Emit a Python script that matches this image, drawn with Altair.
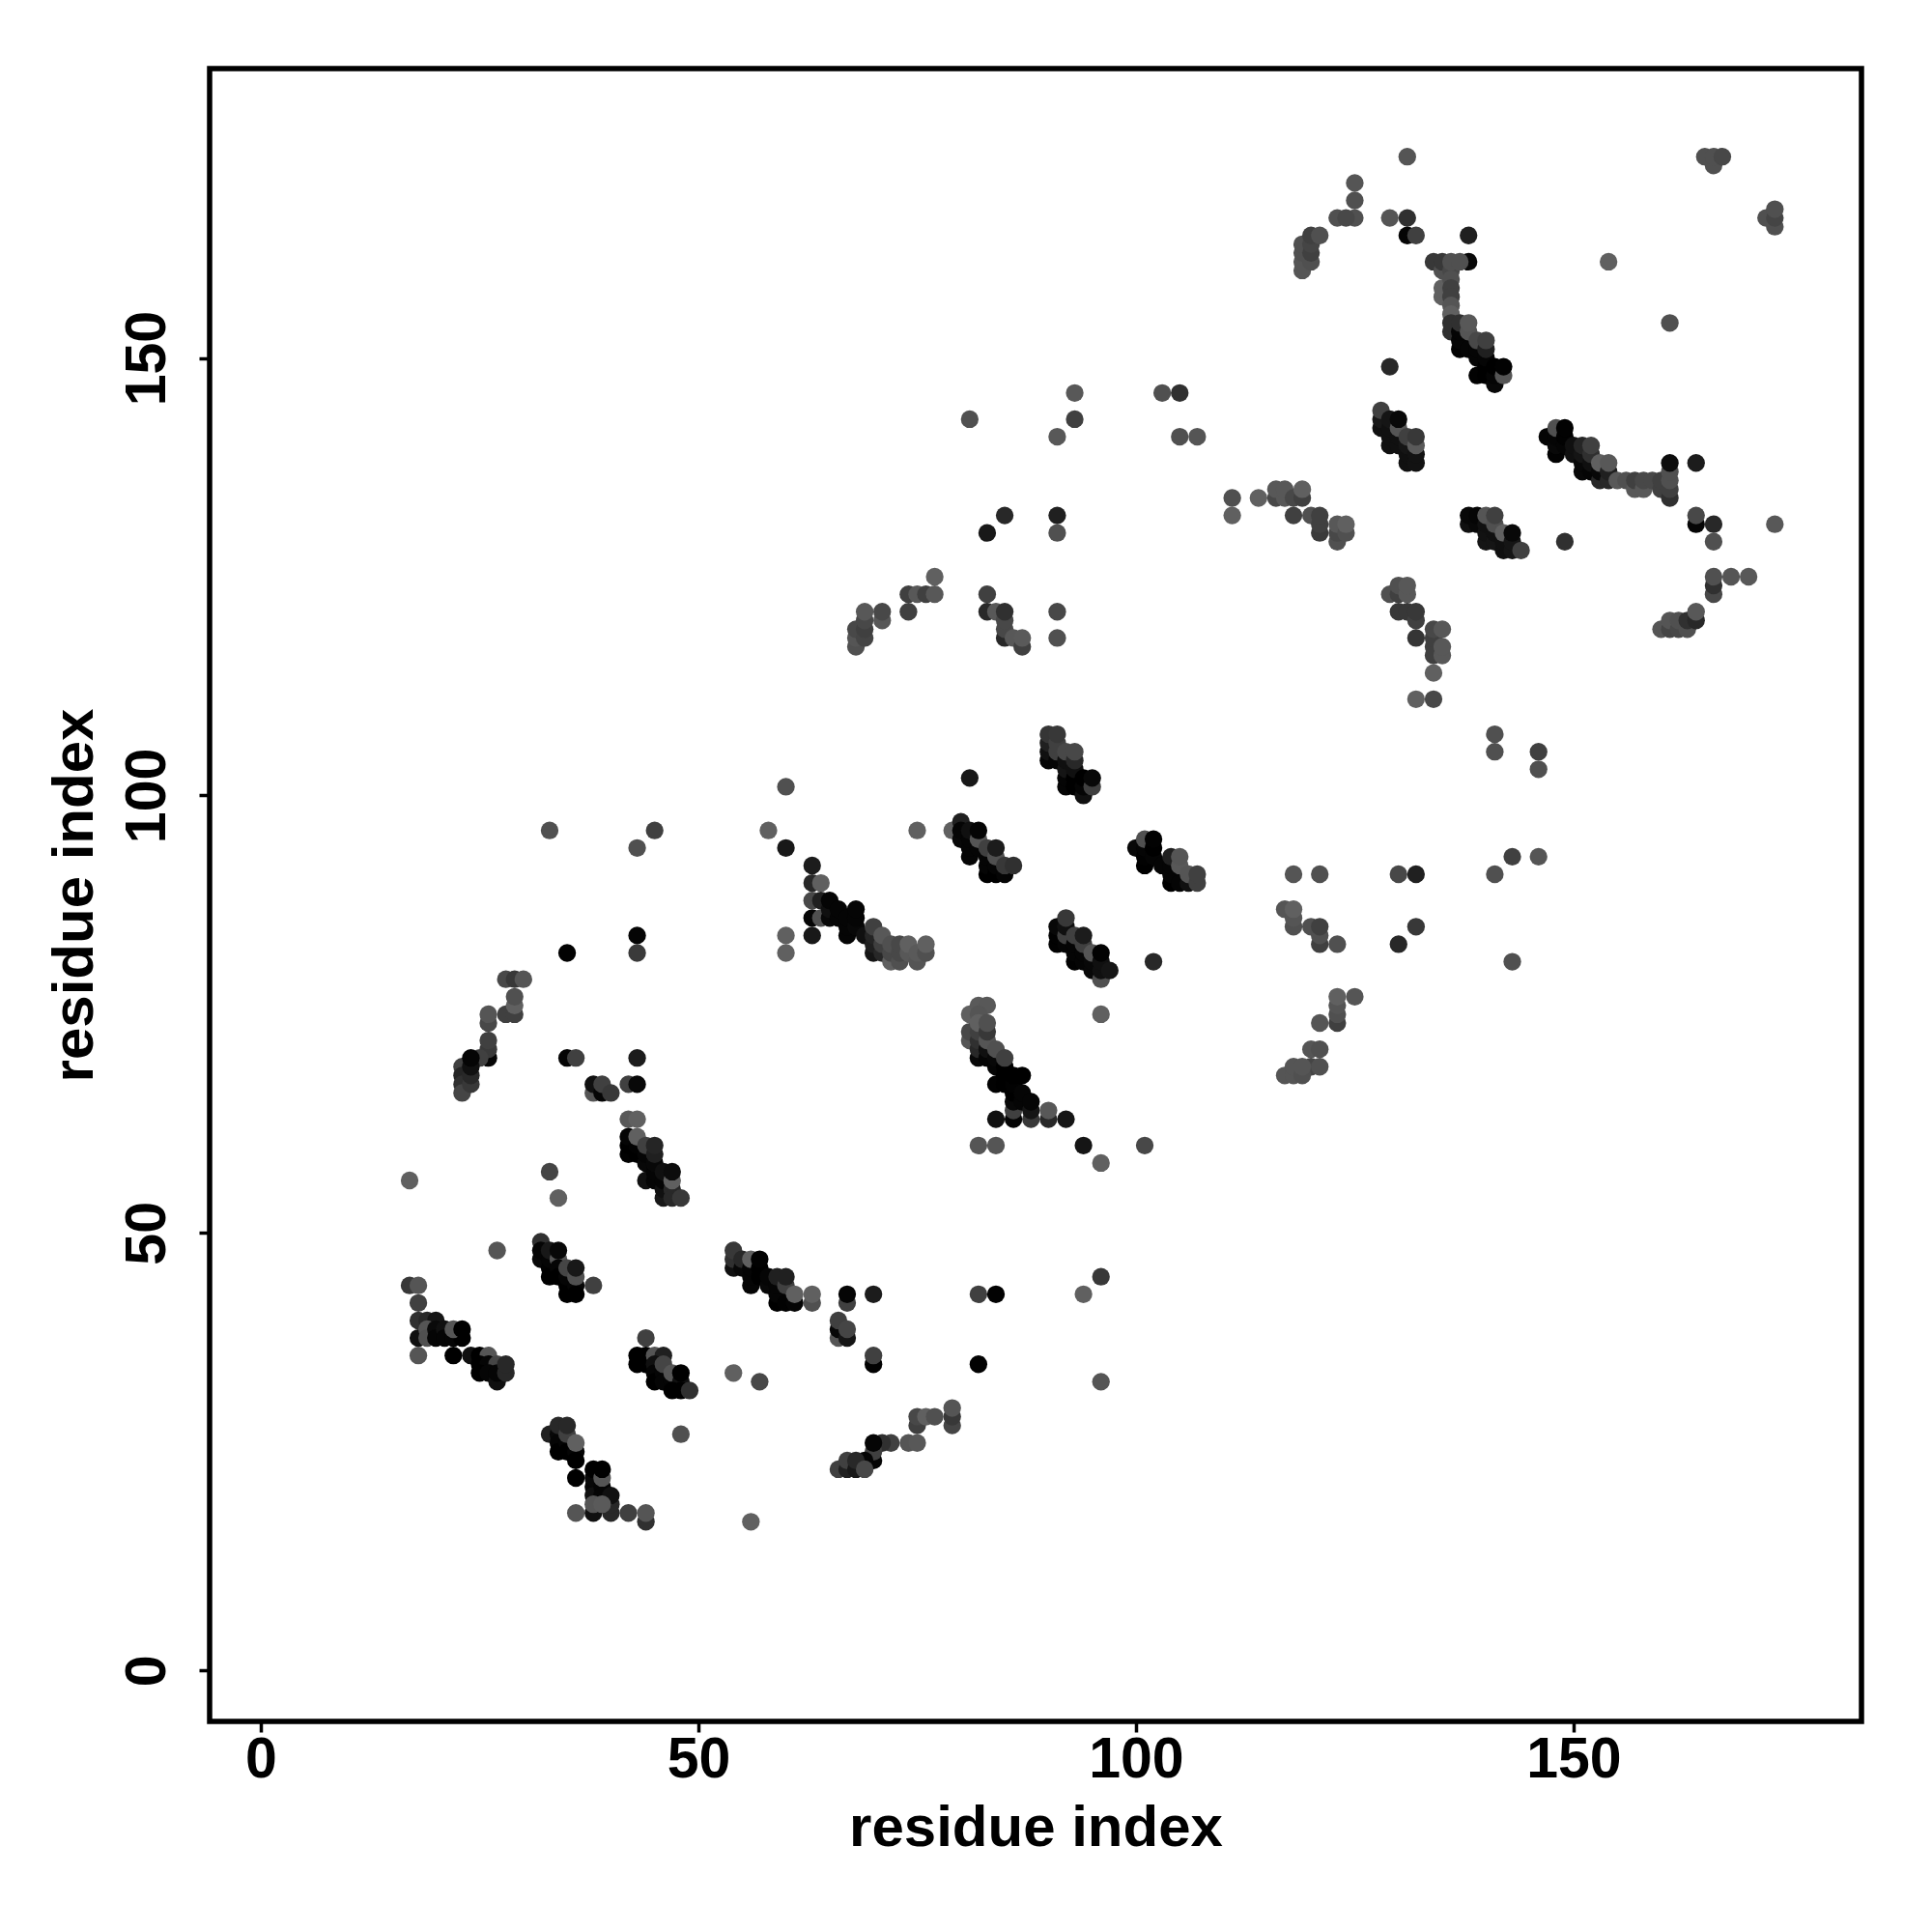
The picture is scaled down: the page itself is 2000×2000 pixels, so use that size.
import altair as alt
import pandas as pd

# (x residue, y residue, grey level 0-255)
c_a = [(17,44,0x38),(18,44,0x55),(18,42,0x40),(18,40,0x30),(19,40,0x28),(20,40,0x15),(18,38,0x10),(19,39,0x55),(19,38,0x50),
(20,39,0x0a),(20,38,0x05),(21,39,0x10),(21,38,0x05),(22,38,0x05),(23,38,0),(22,39,0x55),(23,39,0),(18,36,0x55),(22,36,0),(24,36,0x10),
(25,36,0),(26,36,0x55),(25,35,0),(26,35,0x05),(27,35,0x45),(25,34,0),(26,34,0x05),(27,33,0x10),(27,34,0x05),(28,34,0x28),(28,35,0x28),(27,48,0x55)]
c_b = [(32,49,0x30),(32,47,0x08),(32,48,0x05),(33,46,0x02),(33,45,0),(33,47,0x05),(33,48,0x18),(34,47,0x55),(34,48,0x08),(34,46,0x05),(34,45,0),
(35,44,0),(35,43,0),(35,45,0x05),(35,46,0x45),(36,44,0x05),(36,43,0),(36,45,0x50),(36,46,0x18),(38,44,0x40)]
c_c = [(44,38,0x40),(43,36,0),(44,36,0),(43,35,0),(44,35,0),(45,36,0x55),(46,36,0x20),(45,35,0x10),(45,34,0x05),(45,33,0),(46,34,0x05),
(46,35,0x45),(46,33,0x05),(47,33,0x05),(47,34,0x55),(48,33,0x10),(48,34,0),(47,32,0),(48,32,0),(49,32,0x30),(48,27,0x50),(54,34,0x60),(57,33,0x48),(56,17,0x60)]
c_d = [(33,27,0x20),(34,27,0x08),(34,26,0x05),(34,25,0),(35,26,0x05),(35,25,0),(36,25,0x05),(36,24,0),(34,28,0x28),(35,27,0x40),(35,28,0x28),(36,26,0x60),
(36,22,0),(38,21,0x05),(38,20,0x10),(38,22,0x08),(38,23,0),(39,21,0x05),(39,22,0x55),(39,23,0),(38,18,0x10),(39,20,0x05),(40,18,0x28),(40,19,0x28),(40,20,0x10),
(38,19,0x55),(39,19,0x5a),(36,18,0x55),(42,18,0x40),(44,17,0x30),(44,18,0x55)]
c_e = [(43,84,0x05),(43,82,0x3a),(35,82,0x02),(28,79,0x48),(29,79,0x38),(30,79,0x55),(28,75,0x40),(29,75,0x40),(29,76,0x60),(29,77,0x50),(26,74,0x48),(26,75,0x55),
(26,70,0x05),(26,71,0x3a),(26,72,0x40),(25,70,0x40),(23,69,0x40),(23,68,0x25),(23,67,0x30),(23,66,0x45),(24,67,0x38),(24,68,0x28),(24,69,0x10),(24,70,0x05),
(35,70,0x05),(36,70,0x40),(43,70,0x1c),(38,66,0x55),(38,67,0x10),(39,66,0x05),(39,67,0x40),(40,66,0x38),(42,67,0x40),(43,67,0x08),(42,63,0x58),(43,63,0x60)]
c_f = [(42,59,0x02),(42,60,0),(42,61,0x05),(43,59,0),(43,60,0x02),(43,61,0x60),(44,56,0x10),(44,58,0x08),(44,59,0x05),(44,60,0x40),(45,56,0x05),(45,57,0x05),(45,58,0x08),(45,59,0x20),(45,60,0x25),
(46,54,0x18),(46,55,0x10),(46,56,0x05),(46,57,0x10),(47,55,0x28),(47,54,0x28),(47,56,0x60),(47,57,0x0c),(48,54,0x38),(17,56,0x60),(33,57,0x45),(34,54,0x60)]
c_g = [(54,46,0x10),(54,47,0x30),(54,48,0x38),(55,46,0x08),(55,47,0x28),(56,44,0x05),(56,45,0x05),(56,46,0x05),(56,47,0x60),(57,45,0),(57,46,0),(57,47,0x02),
(58,44,0x08),(58,45,0x05),(59,42,0),(59,43,0x05),(59,44,0x05),(59,45,0x20),(60,42,0x02),(60,44,0x40),(60,45,0x20),(61,42,0x05),(61,43,0x60),(63,42,0x50),(63,43,0x60),
(67,42,0x40),(67,43,0x05),(70,43,0x1c),(82,43,0x40),(84,43,0x02),(94,43,0x60),(96,45,0x38),(66,38,0x55),(66,39,0x08),(66,40,0x40),(67,38,0x15),(67,39,0x45),
(70,35,0x02),(70,36,0x40),(82,35,0x02),(96,33,0x55)]
c_h = [(79,28,0x45),(79,29,0x38),(79,30,0x55),(75,28,0x40),(75,29,0x48),(76,29,0x60),(77,29,0x50),(74,26,0x55),(75,26,0x58),(72,26,0x40),(71,26,0x30),(70,24,0x05),(70,25,0x40),(70,26,0x05),
(69,24,0x05),(66,23,0x40),(67,23,0x20),(67,24,0x40),(68,23,0x18),(68,24,0x28),(69,23,0x48)]
c_i = [(58,96,0x60),(60,94,0x18),(63,92,0x1c),(63,90,0x28),(64,90,0x60),(63,88,0x48),(63,86,0x05),(64,86,0x50),(63,84,0x18),(60,84,0x60),(60,82,0x60),
(64,88,0x20),(65,86,0x08),(65,87,0x10),(65,88,0x05),(66,86,0x05),(66,87,0x05),(67,84,0x05),(67,85,0x05),(67,86,0x05),(68,85,0x08),(68,86,0x05),(68,87,0x05),(69,84,0x10),
(70,82,0x15),(70,83,0x20),(70,84,0x25),(70,85,0x40),(71,82,0x28),(71,83,0x40),(71,84,0x58),(72,81,0x60),(72,82,0x48),(72,83,0x50),(73,81,0x50),(73,82,0x48),(73,83,0x48),
(74,82,0x58),(74,83,0x60),(75,81,0x55),(75,82,0x5a),(76,82,0x50),(76,83,0x60),(75,96,0x60)]
c_j = [(79,96,0x60),(80,97,0x20),(80,95,0x08),(80,96,0x05),(81,93,0x05),(81,94,0x05),(81,95,0x05),(81,96,0x10),(82,94,0x05),(82,95,0x55),(82,96,0x05),(83,91,0),(83,92,0x05),(83,93,0x05),(83,94,0x40),
(84,91,0),(84,92,0x05),(84,93,0x50),(84,94,0x1c),(85,91,0x05),(85,92,0x38),(86,92,0x30)]
c_k = [(100,94,0x08),(101,92,0),(101,93,0x02),(101,94,0x05),(101,95,0x50),(102,93,0x05),(102,94,0),(102,95,0x02),(103,92,0x05),(104,90,0),(104,91,0x05),(104,92,0x05),(104,93,0x20),
(105,90,0x05),(105,92,0x58),(105,93,0x55),(106,90,0x10),(106,91,0x55),(107,90,0x40),(107,91,0x40),(102,81,0x28)]
c_l = [(91,83,0x02),(91,84,0x02),(91,85,0x08),(92,83,0x05),(92,84,0x40),(92,85,0x10),(92,86,0x38),(93,81,0x02),(93,82,0x05),(93,83,0x05),(93,84,0x40),(94,81,0x05),(94,82,0x05),(94,83,0x40),(94,84,0x1c),
(95,80,0x08),(95,81,0x08),(95,82,0x55),(96,79,0x50),(96,80,0x10),(96,81,0x10),(96,82,0x02),(97,80,0x15)]
c_m = [(81,75,0x60),(82,76,0x5a),(83,76,0x58),(82,75,0x55),(81,72,0x55),(81,73,0x48),(82,70,0x08),(82,71,0x28),(82,72,0x30),(82,73,0x40),(82,74,0x60),(83,70,0x05),(83,71,0x10),(83,72,0x55),(83,73,0x38),(83,74,0x50),
(84,67,0x02),(84,69,0x05),(84,70,0x08),(84,71,0x50),(85,67,0),(85,68,0),(85,69,0),(85,70,0x40),(86,63,0x05),(86,64,0x40),(86,65,0x08),(86,66,0),(86,67,0x02),(86,68,0),
(87,65,0x05),(87,66,0x05),(87,68,0),(88,63,0x38),(88,64,0x15),(88,65,0x05),(84,63,0x10),(90,63,0x28),(90,64,0x58),(92,63,0x15),
(82,60,0x55),(84,60,0x55),(94,60,0x15),(96,58,0x60),(101,60,0x48),(96,75,0x60)]
c_n = [(90,104,0x05),(90,105,0x10),(90,106,0x20),(90,107,0x35),(91,104,0x05),(91,105,0x40),(91,106,0x40),(91,107,0x38),(92,101,0x05),(92,102,0x05),(92,103,0x15),(92,104,0x10),(92,105,0x48),
(93,101,0),(93,102,0),(93,103,0x10),(93,104,0x28),(93,105,0x48),(94,100,0x10),(94,101,0x05),(94,102,0),(95,101,0x40),(95,102,0x08)]
c_o = [(131,173,0x55),(129,166,0x55),(131,166,0x30),(131,164,0x05),(132,164,0x40),(138,164,0x20),(138,161,0x08),(154,161,0x60),(129,149,0x28),
(134,161,0x38),(135,160,0x50),(135,161,0x38),(136,160,0x48),(136,161,0x50),(137,161,0x50),(135,157,0x60),(135,158,0x60),(136,159,0x50),(136,158,0x40),(136,157,0x40),(136,156,0x55),(136,155,0x60),
(136,153,0x30),(136,154,0x30),(137,151,0x02),(137,152,0x05),(137,153,0x05),(137,154,0x30),(138,151,0x05),(138,153,0x55),(138,154,0x58),(139,148,0x02),(139,150,0x05),(139,151,0x05),(139,152,0x48),
(140,148,0),(140,149,0),(140,150,0x05),(140,151,0x20),(140,152,0x40),(141,147,0x08),(141,148,0x05),(141,149,0),(142,148,0x55),(142,149,0x02)]
c_p = [(128,142,0x10),(128,143,0x18),(128,144,0x40),(129,140,0x10),(129,141,0x10),(129,142,0x10),(129,143,0x15),(130,140,0x10),(130,141,0x10),(130,142,0x55),(130,143,0x08),
(131,138,0x10),(131,139,0x10),(131,140,0x15),(131,141,0x40),(132,138,0x12),(132,139,0x12),(132,140,0x5a),(132,141,0x38)]
c_q = [(147,141,0x05),(148,139,0x02),(148,140,0x08),(148,141,0x05),(148,142,0x50),(149,140,0x05),(149,141,0x02),(149,142,0x02),(150,139,0x10),(150,140,0x10),(151,137,0x08),(151,138,0x08),(151,139,0x15),(151,140,0x25),
(152,137,0x05),(152,138,0x10),(152,139,0x30),(152,140,0x40),(153,136,0x28),(153,137,0x08),(153,138,0x60),(154,136,0x28),(154,137,0x20),(154,138,0x58),
(155,136,0x58),(156,136,0x50),(157,135,0x58),(157,136,0x40),(158,135,0x58),(158,136,0x48),(159,136,0x48),(160,135,0x40),(160,136,0x40),(161,134,0x30),(161,135,0x40),(161,136,0x50),(161,137,0x50),(161,138,0x0c),(164,138,0x1c)]
c_r = [(138,131,0x10),(138,132,0x08),(139,131,0x08),(139,132,0x05),(140,129,0x15),(140,130,0x12),(140,131,0x10),(140,132,0x55),(141,129,0x15),(141,130,0x10),(141,131,0x50),(141,132,0x40),
(142,128,0x10),(142,129,0x10),(142,130,0x60),(143,128,0x15),(143,129,0x15),(143,130,0x08),(144,128,0x40),(149,129,0x30)]
c_s = [(111,134,0x50),(111,132,0x60),(114,134,0x60),(116,134,0x48),(116,135,0x58),(117,134,0x58),(117,135,0x58),(118,134,0x48),(119,134,0x40),(119,135,0x60),(118,132,0x40),(120,132,0x50),(121,130,0x3a),(121,131,0x40),(121,132,0x40),
(123,129,0x50),(123,130,0x48),(123,131,0x58),(124,130,0x50),(124,131,0x60)]
c_t = [(164,131,0x05),(164,132,0x48),(166,131,0x28),(166,129,0x50),(173,131,0x58),(166,123,0x48),(166,124,0x30),(166,125,0x50),(168,125,0x55),(170,125,0x58),
(160,119,0x55),(161,119,0x45),(161,120,0x55),(162,119,0x48),(162,120,0x50),(163,119,0x50),(163,120,0x30),(164,120,0x28),(164,121,0x58)]
c_u = [(68,117,0x50),(68,118,0x55),(68,119,0x48),(69,118,0x45),(69,119,0x40),(69,120,0x48),(69,121,0x58),(71,120,0x58),(71,121,0x48),(74,121,0x40),(74,123,0x40),(75,123,0x58),(76,123,0x40),(77,123,0x58),(77,125,0x60),
(83,123,0x40),(83,121,0x28),(84,121,0x58),(85,118,0x28),(85,119,0x48),(85,120,0x48),(85,121,0x30),(86,118,0x58),(87,117,0x40),(87,118,0x5a),(91,121,0x48),(91,118,0x50)]
c_v = [(129,123,0x50),(130,123,0x40),(130,124,0x50),(131,123,0x58),(131,124,0x58),(130,121,0x38),(131,121,0x38),(132,120,0x40),(132,121,0x38),(132,118,0x35),(134,116,0x40),(134,117,0x40),(134,118,0x40),(134,119,0x48),
(135,116,0x58),(135,117,0x58),(135,119,0x58),(134,114,0x60),(132,111,0x60),(134,111,0x48)]
c_w = [(125,170,0x55),(125,168,0x50),(125,166,0x50),(123,166,0x50),(124,166,0x48),(119,160,0x55),(119,161,0x55),(119,162,0x50),(119,163,0x50),(120,161,0x50),(120,162,0x40),(120,163,0x45),(120,164,0x40),(121,164,0x50),
(161,154,0x50),(165,173,0x50),(166,172,0x50),(166,173,0x50),(167,173,0x48),(173,165,0x50),(172,166,0x50),(173,166,0x45),(173,167,0x50)]
c_x = [(81,143,0x50),(93,146,0x58),(93,143,0x40),(91,141,0x58),(103,146,0x50),(105,146,0x30),(105,141,0x50),(107,141,0x55),(85,132,0x28),(83,130,0x18),(91,132,0x20),(91,130,0x50)]
c_y = [(141,107,0x50),(141,105,0x50),(146,105,0x40),(146,103,0x50),(143,93,0x40),(146,93,0x55),(141,91,0x50),(130,91,0x48),(132,91,0x20),(132,85,0x38),(130,83,0x28),(143,81,0x50),
(118,91,0x55),(121,91,0x50),(117,87,0x55),(118,85,0x50),(118,86,0x55),(118,87,0x60),(120,85,0x50),(121,83,0x40),(121,84,0x50),(121,85,0x40),(123,83,0x50),
(125,77,0x55),(123,74,0x40),(123,75,0x50),(123,76,0x55),(123,77,0x60),(121,74,0x55),(120,71,0x55),(121,71,0x50),(120,69,0x45),(121,69,0x50),(117,68,0x55),(118,68,0x55),(118,69,0x55),(119,68,0x50),(119,69,0x55)]
c_z = [(81,102,0x18),(60,101,0x50),(33,96,0x50),(43,94,0x50),(45,96,0x40)]

clusters = [c_a,c_b,c_c,c_d,c_e,c_f,c_g,c_h,c_i,c_j,c_k,c_l,c_m,c_n,c_o,c_p,c_q,c_r,c_s,c_t,c_u,c_v,c_w,c_x,c_y,c_z]
rows = [{"x":x,"y":y,"c":"#%02x%02x%02x"%(g,g,g)} for cl in clusters for x,y,g in cl]
df = pd.DataFrame(rows)

ticks = [0,50,100,150]
FONT = "Liberation Sans"
FS = 59
TFS = 60

chart = alt.Chart(df).mark_circle(size=335, opacity=1).encode(
    x=alt.X("x:Q", scale=alt.Scale(domain=[-5.85,182.9], nice=False, zero=False),
            axis=alt.Axis(values=ticks, title="residue index", grid=False, domain=False,
                          tickSize=11, tickWidth=3.5, tickColor="black", labelFont=FONT, labelFontSize=FS, labelFontWeight="bold",
                          labelColor="black", labelPadding=-1, titleFont=FONT, titleFontSize=TFS, titleFontWeight="bold", titleColor="black", titlePadding=12, labelFlush=False)),
    y=alt.Y("y:Q", scale=alt.Scale(domain=[-5.82,183.07], nice=False, zero=False),
            axis=alt.Axis(values=ticks, title="residue index", grid=False, domain=False,
                          tickSize=11, tickWidth=3.5, tickColor="black", labelFont=FONT, labelFontSize=FS, labelFontWeight="bold",
                          labelColor="black", labelAngle=270, labelAlign="center", labelBaseline="bottom", labelPadding=24,
                          titleFont=FONT, titleFontSize=TFS, titleFontWeight="bold", titleColor="black", titlePadding=15, labelFlush=False)),
    color=alt.Color("c:N", scale=None),
).properties(
    width=1710, height=1711,
    background="white",
    autosize=alt.AutoSizeParams(type="none"),
    padding={"left":209,"top":63,"right":60,"bottom":200},
    view=alt.ViewConfig(stroke="black", strokeWidth=5.5, fill="white"),
)

chart.save("out.html", embed_options={"renderer": "svg", "actions": False})
